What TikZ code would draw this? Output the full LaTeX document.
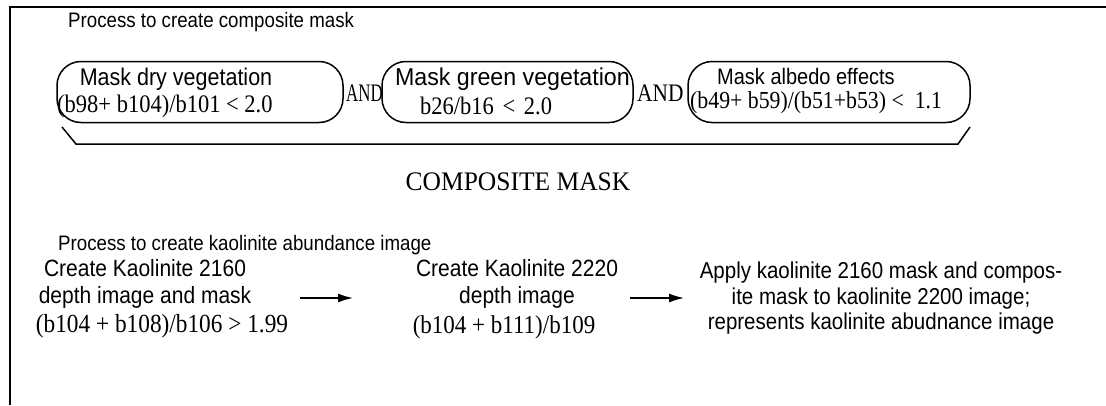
\documentclass[tikz,border=0pt]{standalone}
\usepackage{graphicx}
\usepackage{fontspec}
\setmainfont{Liberation Serif}
\setsansfont{Liberation Sans}
\usetikzlibrary{arrows.meta}
\newcommand\vst[1]{\scalebox{1}[1.12]{#1}}
\newcommand\andt[1]{\scalebox{#1}[1.12]{AND}}
\begin{document}
\begin{tikzpicture}[x=1pt,y=-1pt,
  title/.style={font=\sffamily\fontsize{18.7}{22}\selectfont, inner sep=0pt, anchor=west},
  sanst/.style={font=\sffamily\fontsize{21}{24}\selectfont, inner sep=0pt},
  sert/.style={font=\rmfamily\fontsize{22.5}{25}\selectfont, inner sep=0pt},
  maskbox/.style={draw, line width=1.5pt, rounded corners=24pt, minimum height=61pt, inner sep=0pt},
  flow/.style={line width=1.4pt, -{Latex[length=15pt,width=9pt]}}
]
\useasboundingbox (0,0) rectangle (1106,405);
% frame
\draw[line width=2.5pt] (10,405) -- (10,7) -- (1106,7);

% top section
\node[title] (t1) at (68,22) {\vst{Process to create composite mask}};

\node[maskbox, minimum width=286pt] (b1) at (200,92) {};
\node[maskbox, minimum width=251pt] (b2) at (507.5,92) {};
\node[maskbox, minimum width=282pt] (b3) at (829,92) {};

\node[sanst, font=\sffamily\fontsize{21.5}{24}\selectfont] (b1a) at (176,79) {\vst{Mask dry vegetation}};
\node[sert, anchor=west] (b1b) at (57,106) {\vst{(b98+ b104)/b101 < 2.0}};
\node[sanst, anchor=east, font=\sffamily\fontsize{23.2}{26}\selectfont] (b2a) at (630,79) {\scalebox{1}[1.05]{Mask green vegetation}};
\node[sert, anchor=west] (b2b) at (420,106) {\vst{b26/b16\hspace{3pt} < \hspace{3pt}2.0}};
\node[sanst, anchor=west, font=\sffamily\fontsize{20}{23}\selectfont] (b3a) at (717,76) {\vst{Mask albedo effects}};
\node[sert, anchor=west, font=\rmfamily\fontsize{21.8}{25}\selectfont] (b3b) at (690,103) {\vst{(b49+ b59)/(b51+b53) <\ \ 1.1}};

\node[sert, anchor=west] (and1) at (346,93) {\andt{0.75}};
\node[sert, anchor=west] (and2) at (637,93) {\andt{0.95}};

% brace
\coordinate (brl) at (62,127);
\coordinate (brr) at (970,127);
\draw[line width=1.5pt] (brl) -- (76,144) -- (958,144) -- (brr);

\node[sert, font=\rmfamily\fontsize{25.5}{28}\selectfont] (cm) at (518,182) {\scalebox{1}[1.05]{COMPOSITE MASK}};

% bottom section
\node[title] (t2) at (58,245) {\vst{Process to create kaolinite abundance image}};

\node[sanst] (c1) at (145,285) {\vst{\begin{tabular}{@{}c@{}}Create Kaolinite 2160\\depth image and mask\end{tabular}}};
\node[sert, font=\rmfamily\fontsize{23.3}{26}\selectfont] (c1c) at (162,326) {\vst{(b104 + b108)/b106 > 1.99}};

\node[sanst] (c2) at (517,285) {\vst{\begin{tabular}{@{}c@{}}Create Kaolinite 2220\\depth image\end{tabular}}};
\node[sert, font=\rmfamily\fontsize{23}{26}\selectfont] (c2c) at (504,327) {\vst{(b104 + b111)/b109}};

\node[sanst, font=\sffamily\fontsize{20.5}{23}\selectfont] (c3) at (881,299) {\vst{\begin{tabular}{@{}c@{}}Apply kaolinite 2160 mask and compos-\\ite mask to kaolinite 2200 image;\\represents kaolinite abudnance image\end{tabular}}};

\coordinate (a1s) at (300,298);
\coordinate (a1e) at (353,298);
\coordinate (a2s) at (630,298);
\coordinate (a2e) at (684,298);
\draw[flow] (a1s) -- (a1e);
\draw[flow] (a2s) -- (a2e);
\end{tikzpicture}
\end{document}
